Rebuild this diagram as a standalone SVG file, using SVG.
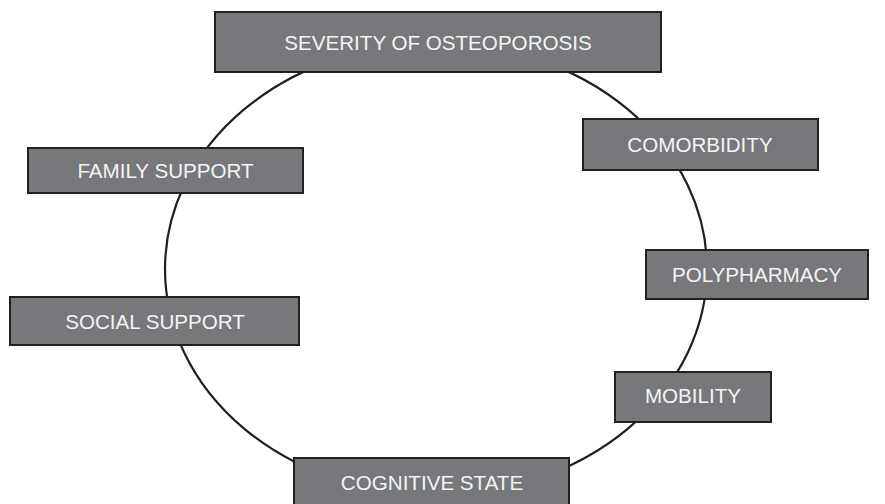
<svg xmlns="http://www.w3.org/2000/svg" width="885" height="504" viewBox="0 0 885 504">
<style>
.box{fill:#77787b;stroke:#231f20;stroke-width:2}
.lbl{font-family:"Liberation Sans",Arial,sans-serif;font-size:20.6px;fill:#f4f4f4;text-anchor:middle}
.ring{fill:none;stroke:#231f20;stroke-width:2.2}
</style>
<rect width="885" height="504" fill="#ffffff"/>
<g id="connectors">
<ellipse class="ring" cx="436" cy="269" rx="271" ry="226"/>
</g>
<g id="severity"><rect class="box" x="215" y="12" width="446" height="60"/><text class="lbl" x="438" y="49.5">SEVERITY OF OSTEOPOROSIS</text></g>
<g id="comorbidity"><rect class="box" x="583" y="119" width="235" height="51"/><text class="lbl" x="700" y="152">COMORBIDITY</text></g>
<g id="polypharmacy"><rect class="box" x="646" y="250" width="222" height="49"/><text class="lbl" x="757" y="282">POLYPHARMACY</text></g>
<g id="mobility"><rect class="box" x="615" y="372" width="156" height="50"/><text class="lbl" x="693" y="403">MOBILITY</text></g>
<g id="cognitive"><rect class="box" x="294" y="458" width="275" height="52"/><text class="lbl" x="432" y="490">COGNITIVE STATE</text></g>
<g id="social"><rect class="box" x="10" y="297" width="289" height="48"/><text class="lbl" x="155" y="328.5">SOCIAL SUPPORT</text></g>
<g id="family"><rect class="box" x="28" y="148" width="275" height="45"/><text class="lbl" x="165.5" y="178">FAMILY SUPPORT</text></g>
</svg>
